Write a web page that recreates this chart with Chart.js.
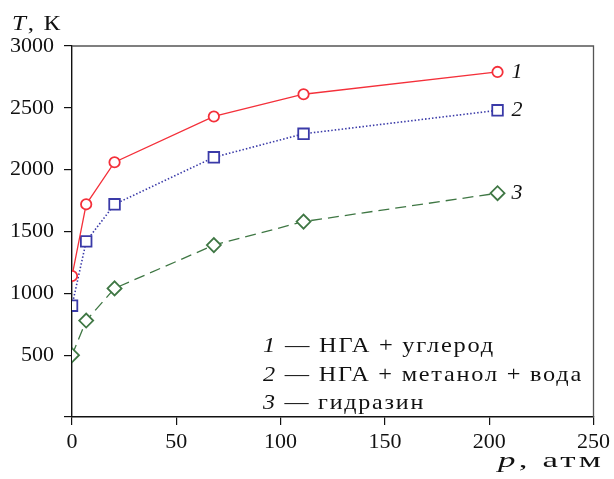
<!DOCTYPE html>
<html>
<head>
<meta charset="utf-8">
<script src="https://cdn.jsdelivr.net/npm/chart.js@4.4.0/dist/chart.umd.min.js"></script>
<style>
  html, body { margin: 0; padding: 0; background: #fff; }
  #wrap { width: 614px; height: 479px; }
</style>
</head>
<body>
<div id="wrap"><canvas id="chart" width="614" height="479"></canvas></div>
<script>
// Pressure, atm
const pressure = [0, 6.8, 20.4, 68, 111, 204];
// Temperature, K
const tempCarbon = [1140, 1720, 2060, 2430, 2610, 2790];
const tempMethanol = [900, 1420, 1720, 2100, 2290, 2480];
const tempHydrazine = [500, 780, 1040, 1390, 1580, 1810];

const curveLabels = ['1', '2', '3'];
const legendRows = [
    ['1', ' — НГА + углерод'],
    ['2', ' — НГА + метанол + вода'],
    ['3', ' — гидразин']
];
const xTicks = [0, 50, 100, 150, 200, 250];
const yTicks = [0, 500, 1000, 1500, 2000, 2500, 3000];

const SERIF = '"Liberation Serif", serif';

function toPoints(ys) {
    return pressure.map((p, i) => ({ x: p, y: ys[i] }));
}

// italic part + upright part; the original uses a wide TeX font, so widen
// with a little letter spacing and a mild horizontal stretch
function drawMixed(ctx, italicPart, plainPart, x, y, size, width, spacing) {
    const parts = [[italicPart, 'italic ' + size + 'px ' + SERIF], [plainPart, size + 'px ' + SERIF]];
    ctx.save();
    if ('letterSpacing' in ctx) ctx.letterSpacing = spacing + 'px';
    let total = 0;
    parts.forEach(p => { ctx.font = p[1]; total += ctx.measureText(p[0]).width; });
    ctx.translate(x, y);
    ctx.scale(width / total, 1);
    let cx = 0;
    parts.forEach(p => {
        ctx.font = p[1];
        ctx.fillText(p[0], cx, 0);
        cx += ctx.measureText(p[0]).width;
    });
    ctx.restore();
}

// Frame, axis titles, curve numbers and the legend text
const decor = {
    id: 'decor',
    afterDraw(chart) {
        const { ctx, chartArea: a, scales } = chart;
        ctx.save();
        // top and right frame
        ctx.strokeStyle = '#555';
        ctx.lineWidth = 1.3;
        ctx.beginPath();
        ctx.moveTo(a.left, a.top);
        ctx.lineTo(a.right, a.top);
        ctx.lineTo(a.right, a.bottom);
        ctx.stroke();

        ctx.fillStyle = '#111';
        ctx.textBaseline = 'alphabetic';
        ctx.textAlign = 'left';
        // axis titles
        drawMixed(ctx, 'T', ', К', 12, 30, 22, 50, 1.5);
        drawMixed(ctx, 'p', ', атм', 498, 467, 22, 106, 2);

        // curve numbers at the last point of each series
        ctx.font = 'italic 22px ' + SERIF;
        chart.data.datasets.forEach((ds, i) => {
            const last = ds.data[ds.data.length - 1];
            const px = scales.x.getPixelForValue(last.x);
            const py = scales.y.getPixelForValue(last.y);
            ctx.fillText(curveLabels[i], px + 14, py + 6);
        });

        // legend text
        const lx = 263;
        const rowY = [352, 381, 409];
        const rowW = [232, 320, 162];
        legendRows.forEach((row, i) => {
            drawMixed(ctx, row[0], row[1], lx, rowY[i], 22, rowW[i], 1.6);
        });
        ctx.restore();
    }
};

function drawChart() {
    new Chart(document.getElementById('chart'), {
        type: 'line',
        data: {
            datasets: [
                {
                    label: '1',
                    data: toPoints(tempCarbon),
                    borderColor: '#f4303a',
                    borderWidth: 1.3,
                    pointStyle: 'circle',
                    pointRadius: 5.2,
                    pointBorderWidth: 1.8,
                    pointBackgroundColor: '#fff',
                    pointBorderColor: '#f4303a',
                    tension: 0
                },
                {
                    label: '2',
                    data: toPoints(tempMethanol),
                    borderColor: '#3a3aa8',
                    borderWidth: 1.6,
                    borderDash: [1.5, 2],
                    pointStyle: 'rect',
                    pointRadius: 7.5,
                    pointBorderWidth: 1.8,
                    pointBackgroundColor: '#fff',
                    pointBorderColor: '#3a3aa8',
                    tension: 0
                },
                {
                    label: '3',
                    data: toPoints(tempHydrazine),
                    borderColor: '#3f7744',
                    borderWidth: 1.3,
                    borderDash: [11, 6],
                    pointStyle: 'rectRot',
                    pointRadius: 7,
                    pointBorderWidth: 1.8,
                    pointBackgroundColor: '#fff',
                    pointBorderColor: '#3f7744',
                    tension: 0
                }
            ]
        },
        options: {
            responsive: false,
            animation: false,
            layout: { padding: { top: 46, right: 20, left: 0, bottom: 0 } },
            plugins: {
                legend: { display: false },
                tooltip: { enabled: false }
            },
            scales: {
                x: {
                    type: 'linear',
                    min: 0,
                    max: 250,
                    afterBuildTicks: s => { s.ticks = xTicks.map(v => ({ value: v })); },
                    afterFit: s => { s.height = 62; },
                    grid: { drawOnChartArea: false, drawTicks: true, tickLength: 8, color: '#111', lineWidth: 1.2 },
                    border: { color: '#111', width: 1.4 },
                    ticks: { color: '#111', padding: 4, font: { family: SERIF, size: 22 }, maxRotation: 0 }
                },
                y: {
                    min: 0,
                    max: 3000,
                    afterBuildTicks: s => { s.ticks = yTicks.map(v => ({ value: v })); },
                    afterFit: s => { s.width = 72; },
                    grid: { drawOnChartArea: false, drawTicks: true, tickLength: 8, color: '#111', lineWidth: 1.2 },
                    border: { color: '#111', width: 1.4 },
                    ticks: {
                        color: '#111',
                        padding: 10,
                        font: { family: SERIF, size: 22 },
                        callback: v => (v === 0 ? '' : String(v))
                    }
                }
            }
        },
        plugins: [decor]
    });
}

// make sure the system serif is ready before the canvas text is measured
Promise.all([
    document.fonts.load('22px "Liberation Serif"'),
    document.fonts.load('italic 22px "Liberation Serif"')
]).then(drawChart, drawChart);
</script>
</body>
</html>
